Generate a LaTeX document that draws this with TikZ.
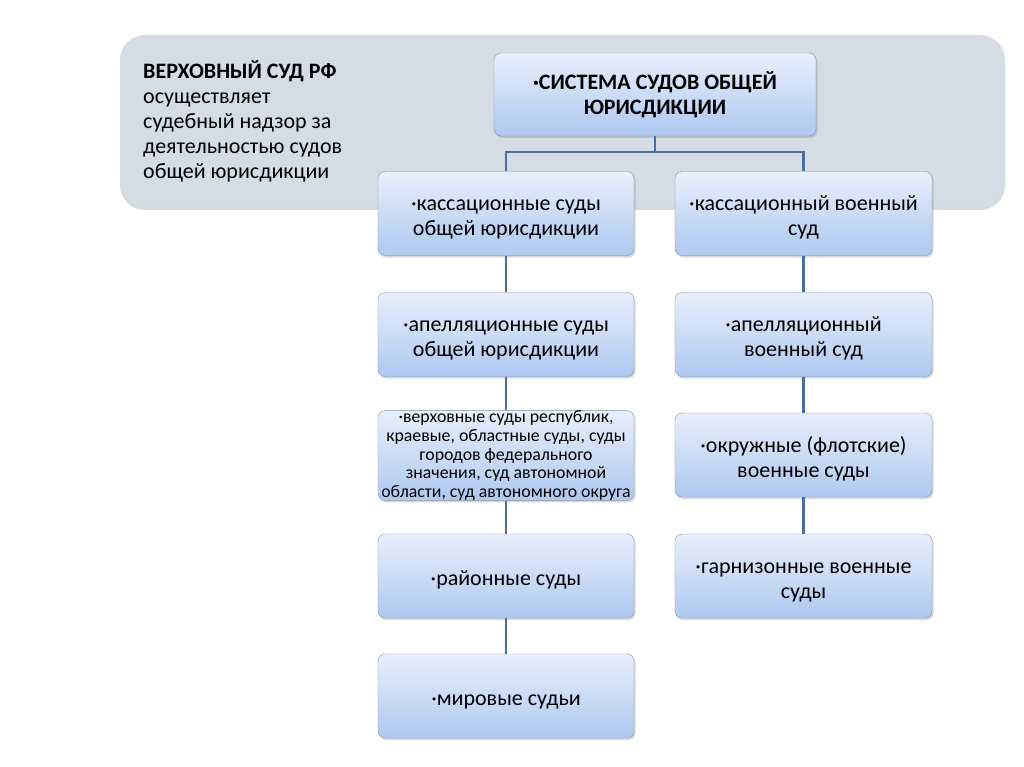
\documentclass[tikz,border=0pt]{standalone}
\usepackage{fontspec}
\setmainfont{Carlito}
\usetikzlibrary{shadows}
\definecolor{bandgray}{HTML}{D6DCE5}
\definecolor{linkblue}{HTML}{4A6E9E}
\definecolor{boxtop}{HTML}{E8EFFB}
\definecolor{boxbot}{HTML}{AEC8F0}
\definecolor{boxline}{HTML}{8391A6}
\newcommand{\lift}[1][23pt]{\rule{0pt}{#1}}
\tikzstyle{band} = [fill=bandgray, rounded corners=25pt, drop shadow={opacity=0.3, shadow xshift=0pt, shadow yshift=-3pt}]
\tikzstyle{courtbox} = [draw=boxline, thin, rectangle, rounded corners=7pt, top color=boxtop, bottom color=boxbot, minimum width=256pt, minimum height=84pt, inner sep=2pt, align=center, font=\fontsize{22}{25}\selectfont, drop shadow={opacity=0.3, shadow xshift=1.5pt, shadow yshift=-2pt}]
\tikzstyle{link} = [draw=linkblue, line width=2.6pt]

\begin{document}
\begin{tikzpicture}[x=1pt, y=-1pt]
    \useasboundingbox (0,0) rectangle (1024,767);
    % upper band
    \path[band] (120,35) rectangle (1005,207);
    \node [anchor=north west, inner sep=0pt, align=left, font=\fontsize{22}{25}\selectfont] (vs) at (143,60)
        {\textbf{ВЕРХОВНЫЙ СУД РФ}\\осуществляет\\судебный надзор за\\деятельностью судов\\общей юрисдикции};
    % top of the system
    \node [courtbox, minimum width=322pt, minimum height=83pt, font=\bfseries\fontsize{22}{25}\selectfont] (sys) at (655,94.5)
        {·СИСТЕМА СУДОВ ОБЩЕЙ\\ЮРИСДИКЦИИ};
    % general courts
    \node [courtbox] (g1) at (506,213.5) {\lift·кассационные суды\\общей юрисдикции};
    \node [courtbox] (g2) at (506,334.5) {\lift·апелляционные суды\\общей юрисдикции};
    \node [courtbox, inner ysep=0pt, font=\fontsize{17.8}{18.7}\selectfont] (g3) at (506,455.5)
        {·верховные суды республик,\\краевые, областные суды, суды\\городов федерального\\значения, суд автономной\\области, суд автономного округа};
    \node [courtbox] (g4) at (506,576) {\lift·районные суды};
    \node [courtbox] (g5) at (506,696) {\lift·мировые судьи};
    % military courts
    \node [courtbox, minimum width=257pt] (m1) at (803.5,213.5) {\lift·кассационный военный\\суд};
    \node [courtbox, minimum width=257pt] (m2) at (803.5,334.5) {\lift·апелляционный\\военный суд};
    \node [courtbox, minimum width=257pt] (m3) at (803.5,455) {\lift·окружные (флотские)\\военные суды};
    \node [courtbox, minimum width=257pt] (m4) at (803.5,576) {\lift·гарнизонные военные\\суды};
    % connectors
    \draw [link] (sys.south) -- ++(0,16) coordinate (fork);
    \draw [link] (fork) -| (g1.north);
    \draw [link] (fork) -| (m1.north);
    \foreach \a/\b in {g1/g2, g2/g3, g3/g4, g4/g5, m1/m2, m2/m3, m3/m4}
        \draw [link] (\a.south) -- (\b.north);
\end{tikzpicture}
\end{document}
